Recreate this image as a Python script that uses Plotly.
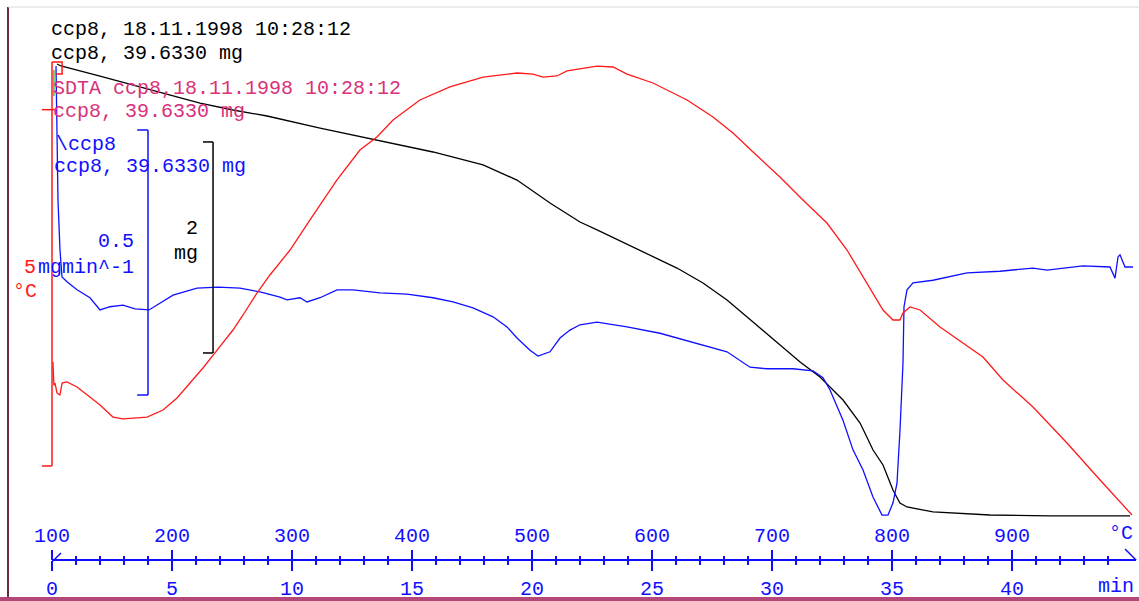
import plotly.graph_objects as go

# --- TG (black): time in min, mass in mg ---
tg_time = [0.21, 0.375, 2.0, 4.625, 6.167, 7.54, 8.96, 11.17, 13.375, 15.875, 17.96, 19.375,
           20.75, 22.0, 22.71, 24.5, 26.04, 27.125, 28.125, 29.21, 30.21, 31.17, 32.0, 32.96,
           33.67, 34.21, 34.625, 35.04, 35.33, 35.625, 36.71, 37.71, 39.08, 41.58, 44.92]
tg_mass = [39.633, 39.614, 39.519, 39.358, 39.263, 39.197, 39.140, 39.026, 38.922, 38.799,
           38.676, 38.533, 38.315, 38.135, 38.060, 37.870, 37.699, 37.557, 37.396, 37.187,
           36.998, 36.808, 36.666, 36.448, 36.230, 35.974, 35.832, 35.595, 35.472, 35.434,
           35.387, 35.377, 35.358, 35.349, 35.349]

# --- SDTA (red): time in min, temperature difference in °C ---
sdta_time = [0.04, 0.08, 0.125, 0.21, 0.33, 0.42, 0.625, 1.04, 1.58, 2.0, 2.54, 2.96, 3.96,
             4.625, 5.21, 5.75, 6.29, 6.79, 7.54, 7.96, 8.54, 9.08, 9.92, 10.75, 11.875, 12.83,
             13.54, 14.21, 15.33, 16.58, 17.96, 19.375, 20.04, 20.46, 21.04, 21.46, 22.0, 22.71,
             23.375, 23.96, 25.04, 26.46, 27.54, 28.375, 29.21, 30.33, 31.29, 32.29, 33.125,
             33.96, 34.625, 35.04, 35.33, 35.46, 35.75, 36.17, 37.0, 38.79, 39.625, 40.875,
             42.29, 43.67, 45.0]
sdta_dt = [1.287, 1.0, 1.027, 0.903, 0.879, 1.027, 1.040, 0.978, 0.854, 0.755, 0.606, 0.582,
           0.606, 0.693, 0.842, 1.027, 1.213, 1.399, 1.683, 1.869, 2.141, 2.364, 2.673, 3.045,
           3.540, 3.911, 4.072, 4.282, 4.530, 4.691, 4.814, 4.864, 4.851, 4.814, 4.827, 4.889,
           4.913, 4.950, 4.938, 4.851, 4.740, 4.530, 4.319, 4.121, 3.886, 3.577, 3.292, 3.007,
           2.673, 2.265, 1.931, 1.807, 1.807, 1.894, 1.968, 1.931, 1.720, 1.349, 1.064, 0.730,
           0.285, -0.173, -0.606]

# --- DTG (blue): time in min, mass rate in mg/min ---
dtg_time = [0.167, 0.208, 0.25, 0.333, 0.417, 0.625, 1.042, 1.583, 2.0, 2.417, 2.958, 3.458,
            4.042, 5.042, 6.042, 6.917, 7.833, 8.667, 9.5, 9.792, 10.333, 10.625, 11.167,
            11.875, 12.542, 13.667, 14.792, 15.875, 16.708, 17.542, 18.375, 18.958, 19.375,
            19.917, 20.25, 20.75, 21.167, 21.583, 22.0, 22.708, 23.958, 25.333, 26.708, 28.125,
            29.083, 29.792, 30.875, 31.708, 32.125, 32.417, 32.958, 33.375, 33.792, 34.208,
            34.583, 34.833, 35.042, 35.208, 35.333, 35.458, 35.5, 35.625, 35.875, 36.708,
            38.125, 39.5, 40.875, 41.458, 42.958, 44.083, 44.292, 44.417, 44.5, 44.708, 45.042]
dtg_rate = [0.379, 0.277, 0.126, 0.032, -0.019, -0.028, -0.043, -0.058, -0.081, -0.075, -0.072,
            -0.079, -0.081, -0.053, -0.040, -0.038, -0.040, -0.047, -0.057, -0.062, -0.058,
            -0.066, -0.058, -0.043, -0.043, -0.049, -0.051, -0.058, -0.066, -0.077, -0.094,
            -0.113, -0.134, -0.157, -0.168, -0.160, -0.134, -0.119, -0.109, -0.104, -0.113,
            -0.125, -0.142, -0.160, -0.189, -0.192, -0.192, -0.196, -0.209, -0.232, -0.289,
            -0.345, -0.383, -0.434, -0.468, -0.468, -0.445, -0.408, -0.308, -0.181, -0.075,
            -0.043, -0.030, -0.025, -0.011, -0.008, -0.002, -0.006, 0.002, 0.0, -0.021, 0.019,
            0.023, 0.0, 0.0]

# axis ticks
time_ticks = [0, 5, 10, 15, 20, 25, 30, 35, 40]
time_minor = [t for t in range(0, 45) if t % 5]
temp_ticks = [100, 200, 300, 400, 500, 600, 700, 800, 900]

W, H = 1139, 601
PX_MIN = 24.0      # pixels per minute
X0 = 52            # pixel of t = 0
AXIS_Y = 560       # pixel row of the time / temperature axis
BLUE = '#1010ff'
RED = '#ff1a1a'
MAG = '#d9317a'
FONT = 'Liberation Mono'


def py(p):
    # pixel row -> paper fraction
    return 1 - p / H


def px(p):
    return p / W


# y ranges chosen so each signal sits where the instrument drew it
tg_rng = [39.633 - (H - 64) / 105.5, 39.633 + 64 / 105.5]
dtg_rng = [(267 - H) / 530, 267 / 530]
sdta_rng = [(466 - H) / 80.8, 466 / 80.8]
t_rng = [-X0 / PX_MIN, (W - X0) / PX_MIN]
T_rng = [100 + 20 * t_rng[0], 100 + 20 * t_rng[1]]

fig = go.Figure()
fig.add_trace(go.Scatter(x=sdta_time, y=sdta_dt, mode='lines', yaxis='y3',
                         line=dict(color=RED, width=1.3), showlegend=False))
fig.add_trace(go.Scatter(x=tg_time, y=tg_mass, mode='lines', yaxis='y',
                         line=dict(color='black', width=1.3), showlegend=False))
fig.add_trace(go.Scatter(x=dtg_time, y=dtg_rate, mode='lines', yaxis='y2',
                         line=dict(color=BLUE, width=1.3), showlegend=False))
# invisible trace so the temperature axis gets drawn
fig.add_trace(go.Scatter(x=temp_ticks, y=[tg_rng[0]] * len(temp_ticks), xaxis='x2',
                         mode='markers', marker=dict(opacity=0), showlegend=False,
                         hoverinfo='skip'))

axis_common = dict(showgrid=False, zeroline=False, showline=False, anchor='free',
                   position=py(AXIS_Y), ticks='outside', ticklen=10, tickwidth=1.5,
                   tickcolor=BLUE, tickfont=dict(family=FONT, size=20, color=BLUE),
                   tickmode='array')

fig.update_layout(
    width=W, height=H,
    margin=dict(l=0, r=0, t=0, b=0),
    paper_bgcolor='white', plot_bgcolor='white',
    xaxis=dict(range=t_rng, side='bottom', tickvals=time_ticks,
               minor=dict(tickvals=time_minor, ticklen=4, tickwidth=1.5,
                          tickcolor=BLUE, ticks='outside'),
               **axis_common),
    xaxis2=dict(range=T_rng, side='top', overlaying='x', tickvals=temp_ticks,
                minor=dict(tickvals=[100 + 20 * t for t in time_minor], ticklen=4,
                           tickwidth=1.5, tickcolor=BLUE, ticks='outside'),
                **axis_common),
    yaxis=dict(range=tg_rng, visible=False),
    yaxis2=dict(range=dtg_rng, visible=False, overlaying='y'),
    yaxis3=dict(range=sdta_rng, visible=False, overlaying='y'),
)

shapes = []
# axis line with end marks
shapes.append(dict(type='line', xref='x', yref='paper', x0=0, x1=45.17,
                   y0=py(AXIS_Y), y1=py(AXIS_Y), line=dict(color=BLUE, width=2)))
shapes.append(dict(type='line', xref='x', yref='paper', x0=0.04, x1=0.375,
                   y0=py(561), y1=py(553), line=dict(color=BLUE, width=1.5)))
shapes.append(dict(type='line', xref='x', yref='paper', x0=44.71, x1=45.17,
                   y0=py(549), y1=py(560), line=dict(color=BLUE, width=1.5)))

# scale bars: 2 mg (black), 0.5 mg/min (blue), 5 °C (red)
tg_top, tg_bar_t = 38.894, 6.71
shapes += [
    dict(type='line', xref='x', yref='y', x0=tg_bar_t, x1=tg_bar_t, y0=tg_top, y1=tg_top - 2,
         line=dict(color='black', width=1.5)),
    dict(type='line', xref='x', yref='y', x0=tg_bar_t - 0.42, x1=tg_bar_t, y0=tg_top, y1=tg_top,
         line=dict(color='black', width=1.5)),
    dict(type='line', xref='x', yref='y', x0=tg_bar_t - 0.42, x1=tg_bar_t, y0=tg_top - 2,
         y1=tg_top - 2, line=dict(color='black', width=1.5)),
]
dtg_top, dtg_bar_t = 0.2585, 4.0
shapes += [
    dict(type='line', xref='x', yref='y2', x0=dtg_bar_t, x1=dtg_bar_t, y0=dtg_top,
         y1=dtg_top - 0.5, line=dict(color=BLUE, width=1.5)),
    dict(type='line', xref='x', yref='y2', x0=dtg_bar_t - 0.45, x1=dtg_bar_t, y0=dtg_top,
         y1=dtg_top, line=dict(color=BLUE, width=1.5)),
    dict(type='line', xref='x', yref='y2', x0=dtg_bar_t - 0.45, x1=dtg_bar_t, y0=dtg_top - 0.5,
         y1=dtg_top - 0.5, line=dict(color=BLUE, width=1.5)),
]
shapes += [
    dict(type='line', xref='x', yref='y3', x0=0, x1=0, y0=5, y1=0,
         line=dict(color=RED, width=1.5)),
    dict(type='line', xref='x', yref='y3', x0=-0.42, x1=0, y0=0, y1=0,
         line=dict(color=RED, width=1.5)),
    dict(type='line', xref='x', yref='y3', x0=-0.42, x1=0.12, y0=4.41, y1=4.41,
         line=dict(color=RED, width=1.5)),
    dict(type='path', xref='x', yref='y3', path='M 0,5 L 0.42,5 L 0.42,4.85 L 0.15,4.85',
         line=dict(color=RED, width=1.5)),
    dict(type='line', xref='x', yref='y3', x0=0.08, x1=0.08, y0=4.9, y1=4.58,
         line=dict(color='#40c040', width=1.5)),
]

# window frame
shapes += [
    dict(type='line', xref='paper', yref='paper', x0=px(8), x1=px(8), y0=py(7), y1=py(597),
         line=dict(color='#6a2a48', width=2)),
    dict(type='line', xref='paper', yref='paper', x0=px(8), x1=1, y0=py(7), y1=py(7),
         line=dict(color='#d8d8d8', width=1)),
    dict(type='rect', xref='paper', yref='paper', x0=0, x1=1, y0=0, y1=py(597),
         fillcolor='#b44878', line=dict(width=0)),
]
fig.update_layout(shapes=shapes)

labels = [
    ('ccp8, 18.11.1998 10:28:12', 49, 30, 'black'),
    ('ccp8, 39.6330 mg', 49, 53, 'black'),
    ('SDTA ccp8,18.11.1998 10:28:12', 51, 89, MAG),
    ('ccp8, 39.6330 mg', 51, 111, MAG),
    ('\\ccp8', 54, 144, BLUE),
    ('ccp8, 39.6330 mg', 52, 166, BLUE),
    ('0.5', 96, 242, BLUE),
    ('mgmin^-1', 36, 267, BLUE),
    ('5', 22, 267, RED),
    ('°C', 11, 291, RED),
    ('2', 184, 228, 'black'),
    ('mg', 172, 253, 'black'),
    ('°C', 1107, 533, BLUE),
    ('min', 1096, 586, BLUE),
]
for txt, x, y, col in labels:
    fig.add_annotation(x=px(x), y=py(y), xref='paper', yref='paper', text=txt,
                       showarrow=False, xanchor='left', yanchor='middle',
                       font=dict(family=FONT, size=20, color=col))

# the page body has an 8px default margin; drop it so the figure fills the window
fig.write_html("out.html", config={'displayModeBar': False},
               post_script="document.body.style.margin='0px';document.body.style.overflow='hidden';")
